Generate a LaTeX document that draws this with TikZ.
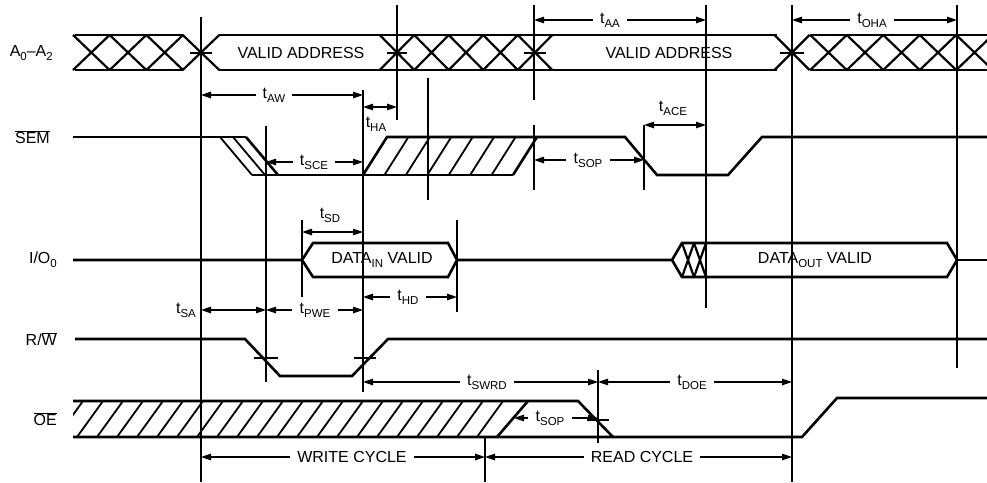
\documentclass[tikz,border=0pt]{standalone}
\usepackage{fontspec}
\setmainfont{Liberation Sans}
\usetikzlibrary{arrows.meta}
\newcommand\tsub[1]{\raisebox{-0.45ex}{\fontsize{11.5}{12}\selectfont #1}}
\newcommand\tlab[1]{t\tsub{#1}}
\begin{document}
\begin{tikzpicture}[x=1pt,y=-1pt,
  >={Triangle[length=10pt,width=6.5pt]},
  sig/.style={line width=2.6pt},
  xs/.style={line width=2.2pt},
  vl/.style={line width=1.3pt},
  hl/.style={line width=1.8pt},
  dim/.style={line width=1.2pt,->},
  dd/.style={line width=1.2pt,<->},
  lbl/.style={font=\fontsize{16}{18}\selectfont, inner ysep=1pt, inner xsep=7pt},
  txt/.style={font=\fontsize{16}{18}\selectfont, inner sep=1pt},
  sname/.style={font=\fontsize{16}{18}\selectfont, inner sep=1pt, anchor=east}]
\useasboundingbox (0,0) rectangle (987,482);
\clip (0,0) rectangle (987,482);
\fill[white] (0,0) rectangle (987,482);

% ---------- signal names ----------
\node[sname] (nA) at (54,53) {A\tsub{0}--A\tsub{2}};
\node[sname] (nSEM) at (51,137) {$\overline{\mbox{SEM}}$};
\node[sname] (nIO) at (58,260) {I/O\tsub{0}};
\node[sname] (nRW) at (58,339) {R/$\overline{\mbox{W}}$};
\node[sname] (nOE) at (58,419) {$\overline{\mbox{OE}}$};

% ---------- vertical reference lines ----------
\draw[vl] (201,17) -- (201,482);
\draw[vl] (266,126) -- (266,382);
\draw[vl] (363,90) -- (363,392);
\draw[vl] (397,5) -- (397,120);
\draw[vl] (428,78) -- (428,200);
\draw[vl] (534,5) -- (534,100);
\draw[vl] (534,125) -- (534,190);
\draw[vl] (644,125) -- (644,190);
\draw[vl] (706,5) -- (706,308);
\draw[vl] (792,5) -- (792,482);
\draw[vl] (957,5) -- (957,368);
\draw[vl] (302,220) -- (302,297);
\draw[vl] (457,220) -- (457,312);
\draw[vl] (598,370) -- (598,443);
\draw[vl] (485,438) -- (485,482);

% ---------- address bus ----------
\draw[sig] (75,35) -- (183,35) (75,70) -- (183,70);
\draw[sig] (219,35) -- (777,35) (219,70) -- (777,70);
\draw[sig] (810,35) -- (987,35) (810,70) -- (987,70);
\foreach \c/\h in {91.3/18.3,128/18.3,164.7/18.3,201/18.3,
                   397/17.25,431.5/17.25,466/17.25,500.5/17.25,535/17.25,
                   792/17.5,828.5/18.25,865/18.25,901.5/18.25,938/18.25,974.5/18.25}
  \draw[xs] (\c-\h,35) -- (\c+\h,70) (\c-\h,70) -- (\c+\h,35);
\draw[vl] (190,53) -- (212,53) (387,53) -- (407,53) (524,53) -- (546,53) (780,53) -- (804,53);
\node[txt] (va1) at (301,53) {VALID ADDRESS};
\node[txt] (va2) at (669,53) {VALID ADDRESS};

% ---------- SEM ----------
\draw[sig] (73,137) -- (246,137);
\draw[hl] (220,137) -- (252,175) (233,137) -- (265,175);
\draw[sig] (246,137) -- (278,175);
\draw[sig] (252,175) -- (513,175);
\draw[sig] (363,175) -- (387,137) -- (625,137) -- (657,175) -- (728,175) -- (762,137) -- (987,137);
\draw[sig] (513,175) -- (537,137);
\foreach \k in {1,...,6}
  \draw[hl] (363+21.43*\k,175) -- (387+21.43*\k,137);

% ---------- I/O ----------
\draw[sig] (73,260) -- (302,260) -- (313,243) -- (448,243) -- (457,260) -- (448,277) -- (313,277) -- (302,260);
\draw[sig] (457,260) -- (672,260) -- (682,243) -- (947,243) -- (957,260) -- (947,277) -- (682,277) -- (672,260);
\draw[sig] (957,260) -- (987,260);
\draw[xs] (682,243) -- (694,277) (694,243) -- (706,277) (682,277) -- (694,243) (694,277) -- (706,243);
\node[txt] (din) at (382,260) {DATA\tsub{IN} VALID};
\node[txt] (dout) at (815,260) {DATA\tsub{OUT} VALID};

% ---------- R/W ----------
\draw[sig] (75,339) -- (245,339) -- (280,376) -- (352,376) -- (388,339) -- (987,339);
\draw[vl] (254,358) -- (278,358) (354,358) -- (376,358);

% ---------- OE ----------
\draw[sig] (73,401) -- (578,401) -- (613,437);
\draw[sig] (73,437) -- (802,437) -- (837,398) -- (987,398);
\draw[sig] (497,437) -- (528,401);
\begin{scope}
  \clip (73,401) -- (528,401) -- (497,437) -- (73,437) -- cycle;
  \foreach \k in {1,...,23}
    \draw[hl] (497-20*\k,437) -- (523-20*\k,401);
\end{scope}
\draw[vl] (587,420) -- (609,420);

% ---------- timing dimensions ----------
\node[lbl] (tAA) at (610,20) {\tlab{AA}};
\coordinate (aaL) at (534,20); \coordinate (aaR) at (706,20);
\draw[dim] (tAA) -- (aaL); \draw[dim] (tAA) -- (aaR);

\node[lbl] (tOHA) at (872,20) {\tlab{OHA}};
\coordinate (ohL) at (792,20); \coordinate (ohR) at (957,20);
\draw[dim] (tOHA) -- (ohL); \draw[dim] (tOHA) -- (ohR);

\node[lbl] (tAW) at (274,95) {\tlab{AW}};
\coordinate (awL) at (201,95); \coordinate (awR) at (363,95);
\draw[dim] (tAW) -- (awL); \draw[dim] (tAW) -- (awR);

\coordinate (haL) at (363,107); \coordinate (haR) at (397,107);
\draw[dd] (haL) -- (haR);
\node[txt] (tHA) at (376,124) {\tlab{HA}};

\node[lbl] (tSCE) at (314,162) {\tlab{SCE}};
\coordinate (sceL) at (266,162); \coordinate (sceR) at (363,162);
\draw[dim] (tSCE) -- (sceL); \draw[dim] (tSCE) -- (sceR);

\node[lbl] (tSOP1) at (588,160) {\tlab{SOP}};
\coordinate (sp1L) at (534,160); \coordinate (sp1R) at (644,160);
\draw[dim] (tSOP1) -- (sp1L); \draw[dim] (tSOP1) -- (sp1R);

\coordinate (aceL) at (644,125); \coordinate (aceR) at (706,125);
\draw[dd] (aceL) -- (aceR);
\node[txt] (tACE) at (673,108) {\tlab{ACE}};

\coordinate (sdL) at (302,232); \coordinate (sdR) at (363,232);
\draw[dd] (sdL) -- (sdR);
\node[txt] (tSD) at (330,215) {\tlab{SD}};

\node[lbl] (tHD) at (408,297) {\tlab{HD}};
\coordinate (hdL) at (363,297); \coordinate (hdR) at (457,297);
\draw[dim] (tHD) -- (hdL); \draw[dim] (tHD) -- (hdR);

\node[txt] (tSA) at (186,310) {\tlab{SA}};
\coordinate (saL) at (201,310); \coordinate (saR) at (266,310);
\draw[dd] (saL) -- (saR);

\node[lbl] (tPWE) at (315,310) {\tlab{PWE}};
\coordinate (pwL) at (266,310); \coordinate (pwR) at (363,310);
\draw[dim] (tPWE) -- (pwL); \draw[dim] (tPWE) -- (pwR);

\node[lbl] (tSWRD) at (487,382) {\tlab{SWRD}};
\coordinate (swL) at (363,382); \coordinate (swR) at (598,382);
\draw[dim] (tSWRD) -- (swL); \draw[dim] (tSWRD) -- (swR);

\node[lbl] (tDOE) at (692,382) {\tlab{DOE}};
\coordinate (doL) at (598,382); \coordinate (doR) at (792,382);
\draw[dim] (tDOE) -- (doL); \draw[dim] (tDOE) -- (doR);

\node[lbl] (tSOP2) at (550,418) {\tlab{SOP}};
\coordinate (sp2L) at (514,418); \coordinate (sp2R) at (598,418);
\draw[dim] (tSOP2) -- (sp2L); \draw[dim] (tSOP2) -- (sp2R);

\node[lbl] (wc) at (352,457) {WRITE CYCLE};
\coordinate (wcL) at (201,457); \coordinate (wcR) at (485,457);
\draw[dim] (wc) -- (wcL); \draw[dim] (wc) -- (wcR);

\node[lbl] (rc) at (642,457) {READ CYCLE};
\coordinate (rcL) at (485,457); \coordinate (rcR) at (792,457);
\draw[dim] (rc) -- (rcL); \draw[dim] (rc) -- (rcR);
\end{tikzpicture}
\end{document}
